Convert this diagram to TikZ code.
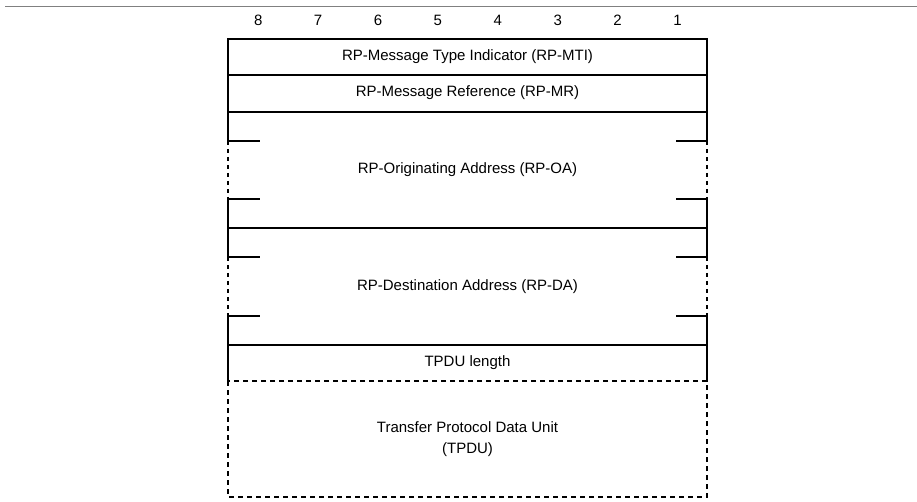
\documentclass[tikz,border=0pt]{standalone}
\usepackage{fontspec}
\setmainfont{Liberation Sans}
\usetikzlibrary{calc}
\newcommand{\fieldfont}{\fontsize{15}{21}\selectfont}
\newcommand{\addrblock}[4]{
  \draw[frame] (259,#2+29) -- (228,#2+29) -- (228,#2);% Upper left bracket
  \draw[frame] (259,#3-29) -- (228,#3-29) -- (228,#3);% Lower left bracket
  \draw[frame] (677,#2+29) -- (707,#2+29) -- (707,#2);% Upper right bracket
  \draw[frame] (677,#3-29) -- (707,#3-29) -- (707,#3);% Lower right bracket
  \draw[gap] (228,#2+29) -- (228,#3-29);
  \draw[gap] (707,#2+29) -- (707,#3-29);
  \node[field] (#1) at (467.5,{(#2+#3)/2}) {#4};
}

\begin{document}
\begin{tikzpicture}[x=1pt,y=-1pt,
    frame/.style={line width=1.8pt,line cap=rect},
    gap/.style={line width=1.8pt,dash pattern=on 4pt off 4pt},
    dashbox/.style={line width=1.8pt,dash pattern=on 5pt off 4pt},
    field/.style={font=\fieldfont,align=center,inner sep=0pt},
    bitnum/.style={font=\fieldfont,inner sep=0pt,anchor=base}]
  \useasboundingbox (0,0) rectangle (917,502);
  \draw[gray,line width=1pt] (5,7) -- (917,7);% Page rule

  % Bit numbers
  \foreach \b in {1,...,8}
    \node[bitnum] (bit\b) at ({677.5-(\b-1)*59.9},25.5) {\b};

  % Fixed octets
  \draw[frame] (228,39) rectangle (707,112);
  \draw[frame] (228,75) -- (707,75);
  \node[field] (mti) at (467.5,57) {RP-Message Type Indicator (RP-MTI)};
  \node[field] (mr) at (467.5,93) {RP-Message Reference (RP-MR)};

  % Address fields
  \addrblock{oa}{112}{228}{RP-Originating Address (RP-OA)}
  \draw[frame] (228,228) -- (707,228);
  \addrblock{da}{228}{345}{RP-Destination Address (RP-DA)}

  % Length octet
  \draw[frame] (228,316) -- (228,381);
  \draw[frame] (707,316) -- (707,381);
  \draw[frame] (228,345) -- (707,345);
  \node[field] (len) at (467.5,363) {TPDU length};

  % User data
  \draw[dashbox] (228,381) rectangle (707,497);
  \node[field] (tpdu) at (467.5,439) {Transfer Protocol Data Unit\\(TPDU)};
\end{tikzpicture}
\end{document}
